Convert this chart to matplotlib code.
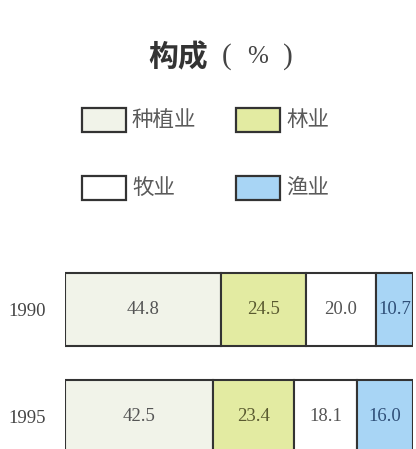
# 构成 (%) - stacked horizontal bars

# Import
import numpy as np
import matplotlib.pyplot as plt
from matplotlib.patches import Rectangle

plt.rcParams['font.family'] = ['Noto Sans CJK SC', 'DejaVu Sans']

# Data
years = ["1990", "1995"]
sectors = ["种植业", "林业", "牧业", "渔业"]
values_1990 = [44.8, 24.5, 20.0, 10.7]
values_1995 = [42.5, 23.4, 18.1, 16.0]

colors = ["#f1f3e9", "#e3eba2", "#ffffff", "#a8d5f5"]
text_colors = ["#555555", "#5a5a30", "#555555", "#2f4f78"]
edge = "#333333"

fig = plt.figure(figsize=(4.16, 4.49), dpi=100)
W, H = 416, 449

# Title
fig.text(178 / W, 1 - 57 / H, "构成", fontsize=21.5, fontweight="bold",
         color="#333333", ha="center", va="center")
for px, ch, fs in [(227, "(", 21), (258, "%", 18), (288, ")", 21)]:
    fig.text(px / W, 1 - 57 / H, ch, fontsize=fs, color="#444444",
             family="Liberation Serif", ha="center", va="center")

# Legend
legend_pos = [(82, 120), (236, 120), (82, 188), (236, 188)]
for (lx, ly), name, c in zip(legend_pos, sectors, colors):
    fig.patches.append(Rectangle((lx / W, 1 - (ly + 12) / H), 44 / W, 24 / H,
                                 transform=fig.transFigure, facecolor=c,
                                 edgecolor=edge, linewidth=1.6))
    fig.text((lx + 50) / W, 1 - ly / H, name, fontsize=15.5, color="#5a5a5a",
             ha="left", va="center")

# Bars
ax = fig.add_axes([65 / W, 0, 348 / W, 199 / H])
data = np.array([values_1990, values_1995])
y = np.arange(len(years))
left = np.zeros(len(years))
for i in range(len(sectors)):
    ax.barh(y, data[:, i], left=left, height=0.68, color=colors[i],
            edgecolor=edge, linewidth=1.5)
    for j in range(len(years)):
        ax.text(left[j] + data[j, i] / 2, y[j], f"{data[j, i]:.1f}",
                ha="center", va="center", fontsize=13.5,
                family="Liberation Serif", color=text_colors[i])
    left += data[:, i]

ax.set_xlim(0, 100)
ax.set_ylim(1.304, -0.556)
ax.set_yticks(y)
ax.set_yticklabels(years, family="Liberation Serif", fontsize=13.5, color="#444444")
ax.tick_params(axis="y", length=0, pad=14)
ax.set_xticks([])
for s in ax.spines.values():
    s.set_visible(False)
ax.patch.set_alpha(0)

plt.savefig("out.png", dpi=100)
